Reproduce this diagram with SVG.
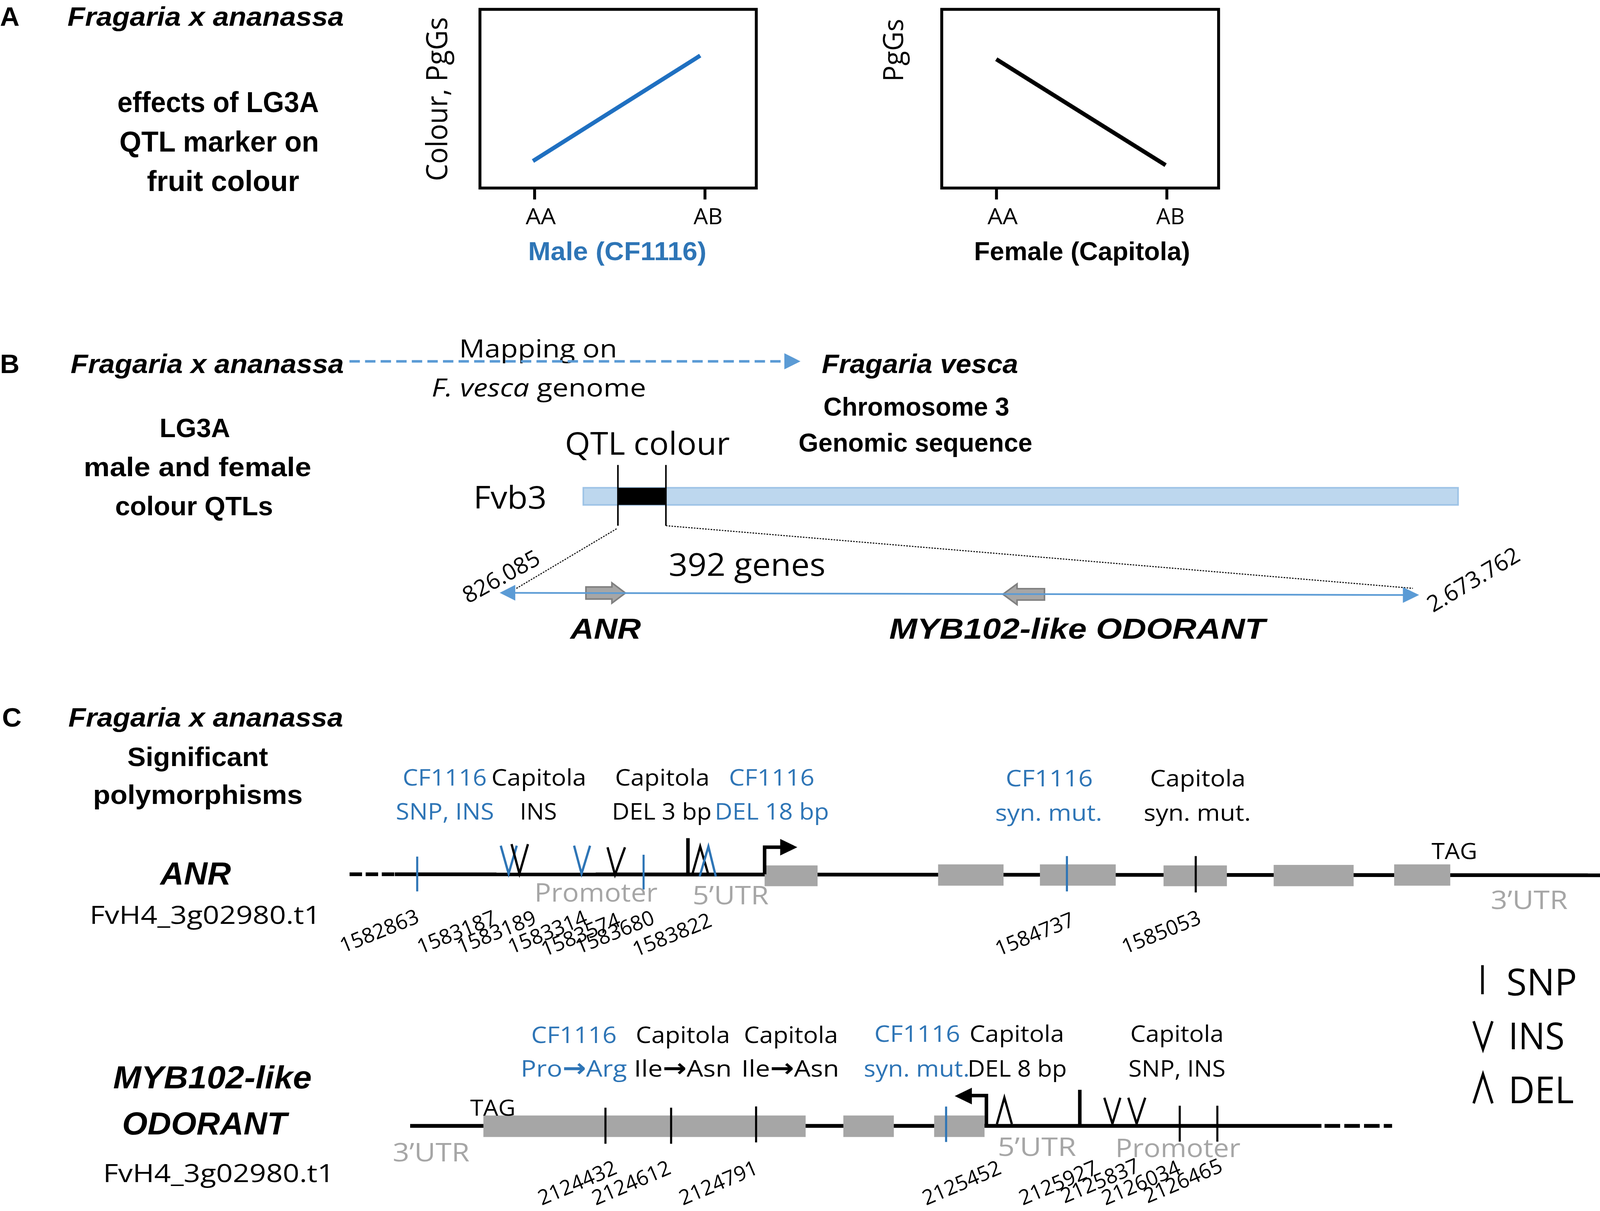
<svg xmlns="http://www.w3.org/2000/svg" width="4170" height="3100" viewBox="0 0 4170 3100">
<style>
.r{font-family:'Open Sans','Liberation Sans',sans-serif;fill:#000}
.b{font-family:'Liberation Sans','Open Sans',sans-serif;font-weight:bold;fill:#000}
.bi{font-family:'Liberation Sans','Open Sans',sans-serif;font-weight:bold;font-style:italic;fill:#000}
.blue{fill:#2E75B6}
.gray{fill:#A6A6A6}
.arw{font-family:'DejaVu Sans',sans-serif;font-weight:bold;font-size:24px}
.snp{stroke:#000;stroke-width:2;fill:none}
.snpb{stroke:#2E75B6;stroke-width:2;fill:none}
.thick{stroke:#000;stroke-width:3.4;fill:none}
.vk{stroke:#000;stroke-width:2.2;fill:none}
.vb{stroke:#2E75B6;stroke-width:2.2;fill:none}
.exon{fill:#A6A6A6}
.gline{stroke:#000;stroke-width:3.6;fill:none}
.frame{fill:none;stroke:#000;stroke-width:2.8}
.tick{stroke:#000;stroke-width:2.8}
.lbl{font-family:'Open Sans','Liberation Sans',sans-serif;font-size:20px;fill:#000}
.garrow{fill:#A6A6A6;stroke:#7F7F7F;stroke-width:1.5}
</style>
<rect width="4170" height="3100" fill="#fff"/>
<g transform="scale(2.6595)">
<!-- Panel A -->
<g id="panelA">
<text class="b" x="0" y="25" font-size="26">A</text>
<text class="bi" x="65" y="25" font-size="26" textLength="266" lengthAdjust="spacingAndGlyphs">Fragaria x ananassa</text>
<text class="b" x="113" y="108" font-size="28" textLength="194" lengthAdjust="spacingAndGlyphs">effects of LG3A</text>
<text class="b" x="115" y="146" font-size="28" textLength="192" lengthAdjust="spacingAndGlyphs">QTL marker on</text>
<text class="b" x="141.5" y="184" font-size="28" textLength="146.5" lengthAdjust="spacingAndGlyphs">fruit colour</text>
</g>
<g id="graphMale">
<rect class="frame" x="462" y="9" width="266" height="172"/>
<line class="tick" x1="514.6" y1="181" x2="514.6" y2="192"/>
<line class="tick" x1="678.6" y1="181" x2="678.6" y2="192"/>
<line x1="513" y1="155" x2="674" y2="53.5" stroke="#1F70C1" stroke-width="4"/>
<text class="r" x="506" y="216" font-size="21" textLength="29" lengthAdjust="spacingAndGlyphs">AA</text>
<text class="r" x="667.6" y="216" font-size="21" textLength="28" lengthAdjust="spacingAndGlyphs">AB</text>
<text class="r" transform="translate(430.7,174.4) rotate(-90)" font-size="28" textLength="158" lengthAdjust="spacingAndGlyphs">Colour, PgGs</text>
<text class="b blue" x="508.4" y="250.3" font-size="25" textLength="171.6" lengthAdjust="spacingAndGlyphs">Male (CF1116)</text>
</g>
<g id="graphFemale">
<rect class="frame" x="906.5" y="9" width="266.5" height="172"/>
<line class="tick" x1="959.2" y1="181" x2="959.2" y2="192"/>
<line class="tick" x1="1123.2" y1="181" x2="1123.2" y2="192"/>
<line x1="959" y1="57" x2="1122" y2="159" stroke="#000" stroke-width="4"/>
<text class="r" x="950.6" y="216" font-size="21" textLength="29" lengthAdjust="spacingAndGlyphs">AA</text>
<text class="r" x="1113" y="216" font-size="21" textLength="27.4" lengthAdjust="spacingAndGlyphs">AB</text>
<text class="r" transform="translate(869.4,78.6) rotate(-90)" font-size="27" textLength="60.5" lengthAdjust="spacingAndGlyphs">PgGs</text>
<text class="b" x="937.6" y="250.3" font-size="25" textLength="208" lengthAdjust="spacingAndGlyphs">Female (Capitola)</text>
</g>
<!-- Panel B -->
<g id="panelB">
<text class="b" x="0" y="359" font-size="26">B</text>
<text class="bi" x="68" y="359" font-size="26" textLength="263" lengthAdjust="spacingAndGlyphs">Fragaria x ananassa</text>
<text class="r" x="442" y="344" font-size="24" textLength="152" lengthAdjust="spacingAndGlyphs">Mapping on</text>
<text class="r" x="415.5" y="381.7" font-size="24" textLength="206.5" lengthAdjust="spacingAndGlyphs"><tspan font-style="italic">F. vesca</tspan> genome</text>
<text class="bi" x="791" y="359" font-size="26" textLength="189" lengthAdjust="spacingAndGlyphs">Fragaria vesca</text>
<text class="b" x="792.6" y="400" font-size="25" textLength="179" lengthAdjust="spacingAndGlyphs">Chromosome 3</text>
<text class="b" x="768.7" y="434.6" font-size="25" textLength="225" lengthAdjust="spacingAndGlyphs">Genomic sequence</text>
<text class="b" x="153.6" y="420.6" font-size="26" textLength="68" lengthAdjust="spacingAndGlyphs">LG3A</text>
<text class="b" x="80.6" y="458.3" font-size="26" textLength="219" lengthAdjust="spacingAndGlyphs">male and female</text>
<text class="b" x="110.8" y="496.1" font-size="26" textLength="152" lengthAdjust="spacingAndGlyphs">colour QTLs</text>
<text class="r" x="543.8" y="437.8" font-size="30" textLength="158.7" lengthAdjust="spacingAndGlyphs">QTL colour</text>
<text class="r" x="455.7" y="489.6" font-size="30" textLength="70.5" lengthAdjust="spacingAndGlyphs">Fvb3</text>
<text class="r" x="643.6" y="554.4" font-size="30" textLength="151" lengthAdjust="spacingAndGlyphs">392 genes</text>
<text class="r" transform="translate(450.6,581.3) rotate(-29)" font-size="22">826.085</text>
<text class="r" transform="translate(1379.4,590) rotate(-31)" font-size="22">2.673.762</text>
<text class="bi" x="549" y="614.8" font-size="28" textLength="68" lengthAdjust="spacingAndGlyphs">ANR</text>
<text class="bi" x="856" y="614.8" font-size="28" textLength="362" lengthAdjust="spacingAndGlyphs">MYB102-like ODORANT</text>
</g>
<g id="chromosome">
<rect x="561.5" y="469.5" width="842" height="16.5" fill="#BDD7EE" stroke="#9DC3E6" stroke-width="1.5"/>
<rect x="594.5" y="469.5" width="46.5" height="16.5" fill="#000"/>
<line x1="594.8" y1="447.5" x2="594.8" y2="506" stroke="#000" stroke-width="1.5"/>
<line x1="641" y1="447.5" x2="641" y2="506" stroke="#000" stroke-width="1.5"/>
</g>
<g id="geneArrows">
<polygon class="garrow" points="564,565 589,565 589,561 602,570.8 589,580.6 589,576.6 564,576.6"/>
<polygon class="garrow" points="1005.4,566.6 979,566.6 979,562 965.4,572 979,582 979,577.6 1005.4,577.6"/>
</g>
<g id="connectors">
<line x1="336.4" y1="347.8" x2="756" y2="347.8" stroke="#5B9BD5" stroke-width="2.5" stroke-dasharray="10 5"/>
<polygon points="755,340 770.5,347.8 755,355.5" fill="#5B9BD5"/>
<line x1="593.5" y1="509" x2="496" y2="567" stroke="#000" stroke-width="1" stroke-dasharray="1.5 1.2"/>
<line x1="641" y1="506" x2="1360" y2="566.3" stroke="#000" stroke-width="1" stroke-dasharray="1.5 1.2"/>
<line x1="495" y1="570.6" x2="1351" y2="572.7" stroke="#5B9BD5" stroke-width="1.6"/>
<polygon points="481,570.6 496,563 496,578.1" fill="#5B9BD5"/>
<polygon points="1366,572.7 1350.4,565.1 1350.4,580.3" fill="#5B9BD5"/>
</g>
<!-- Panel C -->
<g id="panelC">
<text class="b" x="2" y="699.4" font-size="26">C</text>
<text class="bi" x="65.8" y="699.4" font-size="26" textLength="264.5" lengthAdjust="spacingAndGlyphs">Fragaria x ananassa</text>
<text class="b" x="122.6" y="737.4" font-size="26" textLength="135.4" lengthAdjust="spacingAndGlyphs">Significant</text>
<text class="b" x="89.6" y="773.8" font-size="26" textLength="201.8" lengthAdjust="spacingAndGlyphs">polymorphisms</text>
<text class="bi" x="154.3" y="851.3" font-size="31" textLength="68" lengthAdjust="spacingAndGlyphs">ANR</text>
<text class="r" x="86.3" y="889.3" font-size="24" textLength="222.4" lengthAdjust="spacingAndGlyphs">FvH4_3g02980.t1</text>
<text class="bi" x="109" y="1047.5" font-size="31" textLength="191" lengthAdjust="spacingAndGlyphs">MYB102-like</text>
<text class="bi" x="117.6" y="1091.8" font-size="31" textLength="158.7" lengthAdjust="spacingAndGlyphs">ODORANT</text>
<text class="r" x="99.3" y="1137.7" font-size="24" textLength="222.3" lengthAdjust="spacingAndGlyphs">FvH4_3g02980.t1</text>
</g>
<g id="geneANR">
<line class="gline" x1="336.5" y1="841.5" x2="380" y2="841.5" stroke-dasharray="12 3.5"/>
<line class="gline" x1="380" y1="841.5" x2="1568" y2="842.5"/>
<rect class="exon" x="736" y="833" width="51" height="20"/>
<rect class="exon" x="903" y="832" width="63" height="20.5"/>
<rect class="exon" x="1001" y="832" width="73" height="20.5"/>
<rect class="exon" x="1120" y="833" width="61" height="20"/>
<rect class="exon" x="1226" y="832.5" width="77" height="20.5"/>
<rect class="exon" x="1342" y="832" width="54" height="20.5"/>
<path d="M736,841.5 V815.5 H752" fill="none" stroke="#000" stroke-width="3.4"/>
<polygon points="751,807.5 767.5,815.5 751,823.5" fill="#000"/>
<line class="snpb" x1="401.6" y1="824.5" x2="401.6" y2="858"/>
<polyline class="vb" points="482,814 489.6,841 497.4,814"/>
<polyline class="vk" points="492.4,812.5 500,841 508.2,812.5"/>
<polyline class="vb" points="552.6,814 559.8,841 568,814"/>
<polyline class="vk" points="584.8,815.6 592,842 601.6,815.6"/>
<line class="snpb" x1="619.5" y1="822.7" x2="619.5" y2="856.2"/>
<line class="thick" x1="662.2" y1="806.7" x2="662.2" y2="841"/>
<polyline class="vk" points="666.3,842 674,814.8 681.9,842"/>
<polyline class="vb" points="673.5,843.6 681.9,814.8 689,843.6"/>
<line class="snpb" x1="1027" y1="824" x2="1027" y2="858"/>
<line class="snp" x1="1151" y1="824" x2="1151" y2="859"/>
<text class="r blue" x="387.6" y="756" font-size="22" textLength="81" lengthAdjust="spacingAndGlyphs">CF1116</text>
<text class="r" x="473" y="756" font-size="22" textLength="91.4" lengthAdjust="spacingAndGlyphs">Capitola</text>
<text class="r" x="592" y="756" font-size="22" textLength="91" lengthAdjust="spacingAndGlyphs">Capitola</text>
<text class="r blue" x="701.6" y="756" font-size="22" textLength="82.4" lengthAdjust="spacingAndGlyphs">CF1116</text>
<text class="r blue" x="381" y="789" font-size="22" textLength="94.6" lengthAdjust="spacingAndGlyphs">SNP, INS</text>
<text class="r" x="500.5" y="789" font-size="22" textLength="35.5" lengthAdjust="spacingAndGlyphs">INS</text>
<text class="r" x="589" y="789" font-size="22" textLength="96" lengthAdjust="spacingAndGlyphs">DEL 3 bp</text>
<text class="r blue" x="688" y="789" font-size="22" textLength="110" lengthAdjust="spacingAndGlyphs">DEL 18 bp</text>
<text class="r blue" x="968" y="757" font-size="22" textLength="84" lengthAdjust="spacingAndGlyphs">CF1116</text>
<text class="r blue" x="958" y="790" font-size="22" textLength="103" lengthAdjust="spacingAndGlyphs">syn. mut.</text>
<text class="r" x="1107" y="757" font-size="22" textLength="92" lengthAdjust="spacingAndGlyphs">Capitola</text>
<text class="r" x="1101" y="790" font-size="22" textLength="103" lengthAdjust="spacingAndGlyphs">syn. mut.</text>
<text class="r" x="1378" y="827" font-size="21" textLength="44" lengthAdjust="spacingAndGlyphs">TAG</text>
<text class="r gray" x="514.5" y="868" font-size="25" textLength="118.5" lengthAdjust="spacingAndGlyphs">Promoter</text>
<text class="r gray" x="666.6" y="870.5" font-size="25" textLength="73.4" lengthAdjust="spacingAndGlyphs">5’UTR</text>
<text class="r gray" x="1435" y="875" font-size="25" textLength="74" lengthAdjust="spacingAndGlyphs">3’UTR</text>
<text class="lbl" transform="translate(330.5,917.5) rotate(-22)">1582863</text>
<text class="lbl" transform="translate(404.9,918.6) rotate(-22)">1583187</text>
<text class="lbl" transform="translate(443.3,918.6) rotate(-22)">1583189</text>
<text class="lbl" transform="translate(492.4,918.6) rotate(-22)">1583314</text>
<text class="lbl" transform="translate(524.3,920.9) rotate(-22)">1583574</text>
<text class="lbl" transform="translate(557.2,918.6) rotate(-22)">1583680</text>
<text class="lbl" transform="translate(612.3,921.1) rotate(-22)">1583822</text>
<text class="lbl" transform="translate(961.4,920.5) rotate(-22)">1584737</text>
<text class="lbl" transform="translate(1083.2,918.5) rotate(-22)">1585053</text>
</g>
<g id="geneMYB">
<line class="gline" x1="394.8" y1="1083.7" x2="1272" y2="1083.7"/>
<line class="gline" x1="1275" y1="1083.7" x2="1340" y2="1083.7" stroke-dasharray="15 4"/>
<rect class="exon" x="465.3" y="1073.7" width="310.2" height="20.7"/>
<rect class="exon" x="811.8" y="1073.7" width="48.6" height="20.7"/>
<rect class="exon" x="899.2" y="1073.7" width="48.5" height="20.7"/>
<path d="M949.5,1083.7 V1054.5 H934" fill="none" stroke="#000" stroke-width="3.4"/>
<polygon points="935.5,1047 919,1055 935.5,1063" fill="#000"/>
<line class="snp" x1="582.8" y1="1066.2" x2="582.8" y2="1100.9"/>
<line class="snp" x1="646" y1="1066.2" x2="646" y2="1100.9"/>
<line class="snp" x1="727.8" y1="1065" x2="727.8" y2="1099.6"/>
<line class="snpb" x1="910.7" y1="1065.1" x2="910.7" y2="1099.2"/>
<polyline class="vk" points="959.6,1082 966.8,1056.5 974,1082"/>
<line class="thick" x1="1039.4" y1="1049" x2="1039.4" y2="1082.4"/>
<polyline class="vk" points="1063,1056.6 1070.8,1081.6 1078.4,1056.6"/>
<polyline class="vk" points="1086.1,1056.6 1094.1,1081.6 1102.4,1056.6"/>
<line class="snp" x1="1135.6" y1="1064.3" x2="1135.6" y2="1098.9"/>
<line class="snp" x1="1171.8" y1="1064.3" x2="1171.8" y2="1098.9"/>
<text class="r blue" x="511.3" y="1004" font-size="22" textLength="82.3" lengthAdjust="spacingAndGlyphs">CF1116</text>
<text class="r" x="612" y="1004" font-size="22" textLength="90.7" lengthAdjust="spacingAndGlyphs">Capitola</text>
<text class="r" x="716" y="1004" font-size="22" textLength="90.7" lengthAdjust="spacingAndGlyphs">Capitola</text>
<text class="r blue" x="501.2" y="1036.4" font-size="22" textLength="102.3" lengthAdjust="spacingAndGlyphs">Pro<tspan class="arw">→</tspan>Arg</text>
<text class="r" x="610.3" y="1036.4" font-size="22" textLength="94" lengthAdjust="spacingAndGlyphs">Ile<tspan class="arw">→</tspan>Asn</text>
<text class="r" x="713.7" y="1036.4" font-size="22" textLength="94" lengthAdjust="spacingAndGlyphs">Ile<tspan class="arw">→</tspan>Asn</text>
<text class="r blue" x="841.6" y="1002.7" font-size="22" textLength="82.7" lengthAdjust="spacingAndGlyphs">CF1116</text>
<text class="r" x="933.3" y="1002.7" font-size="22" textLength="91.1" lengthAdjust="spacingAndGlyphs">Capitola</text>
<text class="r blue" x="831.5" y="1036.4" font-size="22" textLength="101.8" lengthAdjust="spacingAndGlyphs">syn. mut.</text>
<text class="r" x="931.4" y="1036.4" font-size="22" textLength="95.5" lengthAdjust="spacingAndGlyphs">DEL 8 bp</text>
<text class="r" x="1088" y="1002.7" font-size="22" textLength="89.9" lengthAdjust="spacingAndGlyphs">Capitola</text>
<text class="r" x="1086.2" y="1036.4" font-size="22" textLength="93.5" lengthAdjust="spacingAndGlyphs">SNP, INS</text>
<text class="r" x="452.6" y="1073.7" font-size="21" textLength="43.6" lengthAdjust="spacingAndGlyphs">TAG</text>
<text class="r gray" x="378" y="1117.7" font-size="25" textLength="74" lengthAdjust="spacingAndGlyphs">3’UTR</text>
<text class="r gray" x="960.3" y="1112.5" font-size="25" textLength="75.6" lengthAdjust="spacingAndGlyphs">5’UTR</text>
<text class="r gray" x="1073.6" y="1113.8" font-size="25" textLength="120.5" lengthAdjust="spacingAndGlyphs">Promoter</text>
<text class="lbl" transform="translate(521.4,1160.5) rotate(-23)">2124432</text>
<text class="lbl" transform="translate(573.4,1160.5) rotate(-23)">2124612</text>
<text class="lbl" transform="translate(657.3,1160.5) rotate(-23)">2124791</text>
<text class="lbl" transform="translate(891.4,1160.5) rotate(-23)">2125452</text>
<text class="lbl" transform="translate(984.4,1160.5) rotate(-23)">2125927</text>
<text class="lbl" transform="translate(1024.6,1158.5) rotate(-23)">2125837</text>
<text class="lbl" transform="translate(1064,1160.5) rotate(-23)">2126034</text>
<text class="lbl" transform="translate(1104.5,1158.5) rotate(-23)">2126465</text>
</g>
<g id="legend">
<line x1="1427" y1="929" x2="1427" y2="957" stroke="#000" stroke-width="2.5"/>
<polyline points="1418.5,983 1427.5,1010 1436.5,983" fill="none" stroke="#000" stroke-width="2.5"/>
<polyline points="1418.5,1062 1427.5,1034 1436.5,1062" fill="none" stroke="#000" stroke-width="2.5"/>
<text class="r" x="1450" y="958" font-size="36" textLength="68" lengthAdjust="spacingAndGlyphs">SNP</text>
<text class="r" x="1452" y="1010" font-size="36" textLength="54" lengthAdjust="spacingAndGlyphs">INS</text>
<text class="r" x="1452" y="1062" font-size="36" textLength="63" lengthAdjust="spacingAndGlyphs">DEL</text>
</g>
</g>
</svg>
